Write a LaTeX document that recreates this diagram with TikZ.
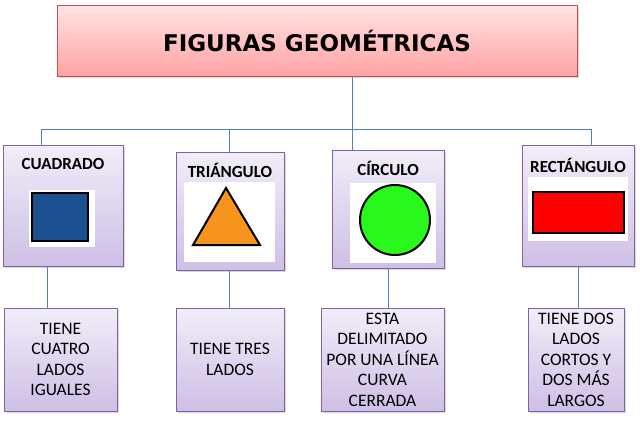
\documentclass[tikz,border=0pt]{standalone}
\usepackage{fontspec}
\setmainfont{Carlito}
\newfontfamily\titlefont{DejaVu Sans}
\usetikzlibrary{shadows}
\definecolor{linkblue}{RGB}{79,129,189}
\definecolor{boxedge}{RGB}{128,100,162}
\definecolor{boxtop}{RGB}{241,237,248}
\definecolor{boxbot}{RGB}{206,191,230}
\definecolor{titleedge}{RGB}{192,80,77}
\definecolor{titletop}{RGB}{255,228,228}
\definecolor{titlebot}{RGB}{255,162,162}
\definecolor{sqblue}{RGB}{28,80,145}
\definecolor{triorange}{RGB}{247,148,30}
\definecolor{circgreen}{RGB}{40,248,28}

\begin{document}
\begin{tikzpicture}[x=1pt,y=-1pt]
\tikzstyle{every node}+=[inner sep=0pt]
\tikzstyle{link}=[linkblue, line width=0.9pt]
\tikzstyle{figbox}=[draw=boxedge, line width=0.9pt, top color=boxtop, bottom color=boxbot, drop shadow={opacity=0.3, shadow xshift=1.5pt, shadow yshift=-1.5pt}]
\tikzstyle{notebox}=[figbox, align=center, font=\fontsize{17.5}{20.5}\selectfont]
\tikzstyle{figlabel}=[font=\fontsize{17}{20}\selectfont\bfseries]
\tikzstyle{figshape}=[draw=black, line width=2pt]
\useasboundingbox (0,0) rectangle (640,426);
\node [draw=titleedge, line width=0.9pt, top color=titletop, bottom color=titlebot, minimum width=520pt, minimum height=71pt, drop shadow={opacity=0.3, shadow xshift=1.5pt, shadow yshift=-1.5pt}, font=\titlefont\fontsize{23}{28}\selectfont\bfseries] (title) at (317,40.5) {FIGURAS GEOMÉTRICAS};
\node [figbox, minimum width=120pt, minimum height=121pt] (cuad) at (63,205.5) {};
\node [figbox, minimum width=108pt, minimum height=118pt] (tri) at (230,211) {};
\node [figbox, minimum width=112pt, minimum height=118pt] (circ) at (388,209) {};
\node [figbox, minimum width=112pt, minimum height=121pt] (rect) at (578,205.5) {};
\node [figlabel] (cuadlabel) at (63,164) {CUADRADO};
\node [figlabel] (trilabel) at (230,170) {TRIÁNGULO};
\node [figlabel] (circlabel) at (388,168) {CÍRCULO};
\node [figlabel] (rectlabel) at (578,165) {RECTÁNGULO};
\fill [white] (29,190) rectangle (95,247);
\draw [figshape, fill=sqblue] (32,193) rectangle (88,241);
\fill [white] (184,182) rectangle (275,262);
\draw [figshape, fill=triorange, line join=miter] (226,188) -- (260,245) -- (193,245) -- cycle;
\fill [white] (350,183) rectangle (436,263);
\draw [figshape, fill=circgreen] (395,220) circle (35);
\fill [white] (528,177) rectangle (628,241);
\draw [figshape, fill=red] (533,192) rectangle (624,233);
\node [notebox, minimum width=113pt, minimum height=103pt] (low1) at (60.5,359.5) {TIENE\\CUATRO\\LADOS\\IGUALES};
\node [notebox, minimum width=108pt, minimum height=103pt] (low2) at (230,359.5) {TIENE TRES\\LADOS};
\node [notebox, minimum width=123pt, minimum height=103pt] (low3) at (382.5,359.5) {ESTA\\DELIMITADO\\POR UNA LÍNEA\\CURVA\\CERRADA};
\node [notebox, minimum width=96pt, minimum height=103pt] (low4) at (576,359.5) {TIENE DOS\\LADOS\\CORTOS Y\\DOS MÁS\\LARGOS};
\coordinate (d1) at (41,129);
\coordinate (d2) at (229,129);
\coordinate (d3) at (352,129);
\coordinate (d4) at (591,129);
\coordinate (l1) at (47,288);
\coordinate (l2) at (229,288);
\coordinate (l3) at (388,288);
\coordinate (l4) at (578,288);
\draw [link] (title.south -| d3) -- (d3);
\draw [link] (d1) -- (d4);
\draw [link] (d1) -- (cuad.north -| d1);
\draw [link] (d2) -- (tri.north -| d2);
\draw [link] (d3) -- (circ.north -| d3);
\draw [link] (d4) -- (rect.north -| d4);
\draw [link] (cuad.south -| l1) -- (low1.north -| l1);
\draw [link] (tri.south -| l2) -- (low2.north -| l2);
\draw [link] (circ.south -| l3) -- (low3.north -| l3);
\draw [link] (rect.south -| l4) -- (low4.north -| l4);
\end{tikzpicture}
\end{document}
